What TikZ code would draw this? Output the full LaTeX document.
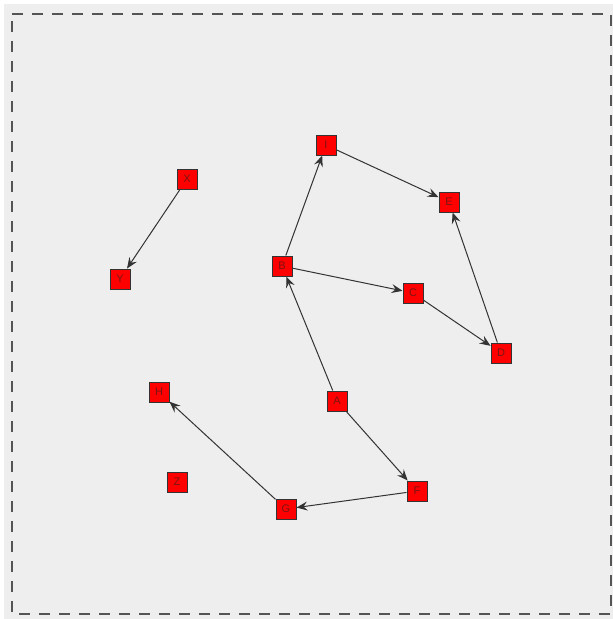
\documentclass[tikz,border=0pt]{standalone}
\usepackage{fontspec}
\setmainfont{Liberation Sans}
\usetikzlibrary{arrows.meta}
\definecolor{bg}{HTML}{EEEEEE}
\definecolor{frame}{HTML}{555555}
\definecolor{edgec}{HTML}{333333}
\definecolor{lbl}{HTML}{7A1414}
\tikzset{
  vbox/.style={draw=edgec, line width=1pt, fill=red, minimum width=20pt, minimum height=20pt,
    inner sep=0pt, text=lbl, font=\fontsize{11}{12}\selectfont},
  link/.style={draw=edgec, line width=1pt, -{Stealth[length=11pt,width=9pt,inset=4pt]}}
}
\begin{document}
\begin{tikzpicture}[x=1pt,y=-1pt]
\useasboundingbox (0,0) rectangle (613,619);
\fill[white] (0,0) rectangle (613,619);
\fill[bg] (4,4) rectangle (613,619);
\draw[frame, line width=2pt, dash pattern=on 11pt off 9pt] (12,14) -- (611,14) -- (611,614) -- (12,614) -- cycle;
\node[vbox] (I) at (326,145) {I};
\node[vbox] (E) at (449,202) {E};
\node[vbox] (B) at (282,266) {B};
\node[vbox] (C) at (413,293) {C};
\node[vbox] (D) at (501,353) {D};
\node[vbox] (X) at (187,179) {X};
\node[vbox] (Y) at (120,279) {Y};
\node[vbox] (H) at (159,392) {H};
\node[vbox] (A) at (337,401) {A};
\node[vbox] (Z) at (177,482) {Z};
\node[vbox] (F) at (417,491) {F};
\node[vbox] (G) at (286,509) {G};
\draw[link] (X) -- (Y);
\draw[link] (B) -- (I);
\draw[link] (I) -- (E);
\draw[link] (B) -- (C);
\draw[link] (C) -- (D);
\draw[link] (D) -- (E);
\draw[link] (A) -- (B);
\draw[link] (A) -- (F);
\draw[link] (F) -- (G);
\draw[link] (G) -- (H);
\end{tikzpicture}
\end{document}
